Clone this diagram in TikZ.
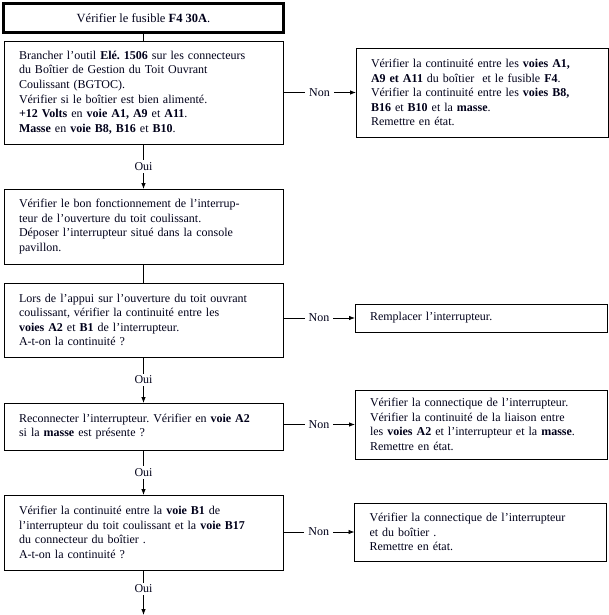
\documentclass[tikz,border=0pt]{standalone}
\usepackage{fontspec}
\setmainfont{Liberation Serif}
\usetikzlibrary{arrows.meta}
\frenchspacing
\begin{document}
\begin{tikzpicture}[x=1pt,y=-1pt,
  every node/.style={font=\fontsize{12}{14.6}\selectfont, text=black!90!blue},
  mainbox/.style={draw, line width=0.8pt, align=left, inner xsep=15pt, inner ysep=4pt, outer sep=0pt, text width=249pt, minimum width=279pt},
  sidebox/.style={draw, line width=0.8pt, align=left, inner xsep=15pt, inner ysep=4pt, outer sep=0pt, text width=222pt, minimum width=252pt},
  lbl/.style={fill=white, inner sep=2pt},
  conn/.style={line width=0.8pt},
  arr/.style={line width=0.8pt, -{Latex[length=6pt,width=4.5pt]}}
]
\useasboundingbox (0,0) rectangle (609,615);
\node[draw, line width=2.8pt, outer sep=0pt, minimum width=280pt, minimum height=29pt, align=center, font=\fontsize{12.5}{14.6}\selectfont] (top) at (143.5,18) {Vérifier le fusible \textbf{F4 30A}.};
\node[mainbox, minimum height=103pt] (b2) at (143.5,92.5) {Brancher l’outil \textbf{Elé. 1506} sur les connecteurs\\du Boîtier de Gestion du Toit Ouvrant\\Coulissant (BGTOC).\\Vérifier si le boîtier est bien alimenté.\\\textbf{+12 Volts} en \textbf{voie A1, A9} et \textbf{A11}.\\\textbf{Masse} en \textbf{voie B8, B16} et \textbf{B10}.};
\node[sidebox, minimum height=89pt] (r2) at (482,92.5) {Vérifier la continuité entre les \textbf{voies A1,}\\\textbf{A9 et A11} du boîtier\ \ et le fusible \textbf{F4}.\\Vérifier la continuité entre les \textbf{voies B8,}\\\textbf{B16} et \textbf{B10} et la \textbf{masse}.\\Remettre en état.};
\node[mainbox, minimum height=75pt] (b3) at (143.5,226.5) {Vérifier le bon fonctionnement de l’interrup-\\teur de l’ouverture du toit coulissant.\\Déposer l’interrupteur situé dans la console\\pavillon.};
\node[mainbox, minimum height=74pt] (b4) at (143.5,320) {Lors de l’appui sur l’ouverture du toit ouvrant\\coulissant, vérifier la continuité entre les\\\textbf{voies A2} et \textbf{B1} de l’interrupteur.\\A-t-on la continuité ?};
\node[sidebox, minimum height=28pt] (r4) at (481,318) {Remplacer l’interrupteur.};
\node[mainbox, minimum height=47pt] (b5) at (143.5,426.5) {Reconnecter l’interrupteur. Vérifier en \textbf{voie A2}\\si la \textbf{masse} est présente ?};
\node[sidebox, minimum height=69pt] (r5) at (481,424.5) {Vérifier la connectique de l’interrupteur.\\Vérifier la continuité de la liaison entre\\les \textbf{voies A2} et l’interrupteur et la \textbf{masse}.\\Remettre en état.};
\node[mainbox, minimum height=75pt] (b6) at (143.5,532.5) {Vérifier la continuité entre la \textbf{voie B1} de\\l’interrupteur du toit coulissant et la \textbf{voie B17}\\du connecteur du boîtier .\\A-t-on la continuité ?};
\node[sidebox, minimum height=58pt] (r6) at (480.5,532) {Vérifier la connectique de l’interrupteur\\et du boîtier .\\Remettre en état.};
\coordinate (end) at (143.5,615);

\draw[conn] (top) -- (b2);
\draw[arr] (b2) -- node[lbl]{Oui} (b3);
\draw[conn] (b3) -- (b4);
\draw[arr] (b4) -- node[lbl]{Oui} (b5);
\draw[arr] (b5) -- node[lbl]{Oui} (b6);
\draw[arr] (b6) -- node[lbl, pos=0.42]{Oui} (end);
\draw[arr] (b2.east) -- node[lbl, inner xsep=4pt]{Non} (r2.west);
\draw[arr] (b4.east |- r4.west) -- node[lbl, inner xsep=4pt]{Non} (r4.west);
\draw[arr] (b5.east |- r5.west) -- node[lbl, inner xsep=4pt]{Non} (r5.west);
\draw[arr] (b6.east |- r6.west) -- node[lbl, inner xsep=4pt]{Non} (r6.west);
\end{tikzpicture}
\end{document}
